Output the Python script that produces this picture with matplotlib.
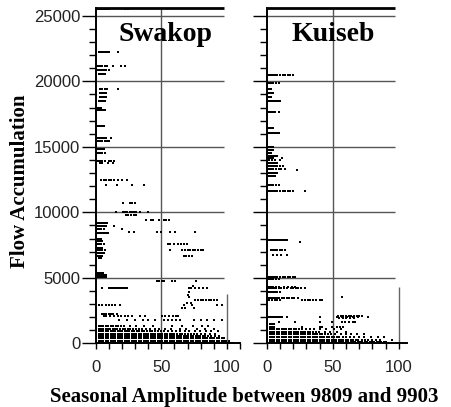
import matplotlib
matplotlib.use("Agg")
import matplotlib.pyplot as plt

# ============================
# DATA  (rows of points: y value, list of x values)
# ============================
titles = ["Swakop", "Kuiseb"]
xticks = [0, 50, 100]
yticks = [0, 5000, 10000, 15000, 20000, 25000]
grid_levels = [5000, 10000, 15000, 20000, 25000]

swakop_upper = [
    (25500, [1, 2.5, 4, 5.5, 7, 8.5, 10, 22, 25]),
    (22250, [2.5, 4, 5.5, 7, 8.5, 10, 17]),
    (21150, [1.5, 3, 5, 7, 8.5, 13, 19, 22.5]),
    (20850, [2, 3.5, 5, 6.5, 8, 10]),
    (20550, [2.5, 4, 5.5, 7]),
    (19400, [3, 5, 7, 8.5, 17]),
    (19100, [3.5, 5, 6.5, 8]),
    (18800, [3, 4.5, 6, 7.5]),
    (18500, [2.5, 4, 5.5, 7]),
    (18000, [1, 2.5, 4]),
    (17800, [1, 2.5, 4, 5.5, 7]),
    (16600, [1.5, 3, 4.5, 6]),
    (15700, [2, 3.5, 5, 6.5, 8, 12]),
    (15450, [2, 3.5, 5, 7, 8.5, 10]),
    (14800, [1.5, 3, 4.5, 6]),
    (14550, [2, 3.5, 5, 7]),
    (13900, [2, 3.5, 5, 7, 10, 12, 14]),
    (13750, [3, 5, 9.5, 13]),
    (12450, [4, 6, 8, 10, 12, 14, 17, 20, 24]),
    (12080, [8, 16, 28, 37]),
]

swakop_mid = [
    (10680, [21, 26, 28, 30]),
    (10030, [15.5, 21, 22.5, 24, 26, 27.5, 29, 31, 34, 39.5]),
    (9800, [23, 25, 27, 29, 31]),
    (9450, [38, 42, 44, 48, 52, 53.5, 56]),
    (9200, [1, 2.5, 4, 5.5, 7, 8.5]),
    (8950, [1.5, 3, 4.5, 6, 7.5, 13.7]),
    (8750, [1, 2.5, 4, 6, 20]),
    (8520, [25.6, 29.5, 46.8, 49.8, 57, 60.8, 76]),
    (8400, [1.5, 3, 4.5, 6, 8, 9.5]),
    (8000, [1, 2.5, 4]),
    (7800, [1.5, 3, 5]),
    (7550, [1, 2.5, 4, 6, 55, 57, 59.5, 63, 65, 67, 69.5]),
    (7300, [1.5, 3, 4.5]),
    (7120, [2, 3.5, 5, 7, 57, 66, 68, 70, 72, 74, 76, 78, 80, 82]),
    (6900, [1.5, 3, 5, 6.5]),
    (6700, [2, 3.5, 5, 67, 69, 71, 73.5]),
    (6500, [2.5, 4]),
    (5400, [1, 2.5, 4, 5.5]),
    (5200, [1.5, 3, 4.5, 6, 7.5]),
    (5050, [2, 3.5, 5, 6.5, 8]),
    (4750, [47, 48.5, 50.5, 52, 58, 60.5, 76.6]),
    (4370, [74.5]),
    (4200, [5, 10, 11.5, 13, 14.5, 16, 17.5, 19, 21, 22.6, 24, 71, 73, 76, 79, 82, 85]),
    (3940, [71]),
    (3700, [70]),
    (3500, [71.5]),
    (3300, [76, 78, 80, 82, 84, 86, 88, 90, 92.6]),
    (3100, [69.5, 73]),
    (2920, [2.3, 5, 7.5, 10, 12.5, 15, 18.8, 67, 73.5, 92.6, 96.4]),
    (2670, [66, 68, 75]),
    (2250, [5, 6.5, 8, 10, 12, 13.5, 16]),
    (2050, [6, 8, 11, 14, 17, 19.5, 22.5, 25, 27.7, 34, 37.6, 50.6, 53, 56, 59, 61, 63]),
    (1800, [18, 24, 30, 36, 40, 45, 52, 55, 58, 61, 64, 75, 80, 85, 90, 96]),
]

swakop_low = [
    (1300, [0.5, 2.3, 4.1, 5.9, 7.7, 9.5, 11.3, 13.1, 15.4, 17.2, 19.5, 21.6, 26, 31,
            36.5, 44, 58, 66, 74, 81, 85.5]),
    (1100, [0.5, 2.2, 4, 5.8, 7.6, 9.4, 11.2, 13, 14.8, 16.6, 18.4, 20.5, 22.3, 24.4,
            26.2, 28.5, 30.4, 33, 35.2, 38, 41.5, 45, 48.3, 53, 57.5, 64, 69, 77, 83, 90]),
    (920, [0.5, 2.3, 4.1, 5.9, 7.7, 9.5, 11.3, 13.1, 14.9, 16.7, 18.5, 20.3, 22.1, 23.9,
           25.7, 27.5, 29.3, 31.3, 33.1, 35, 37, 39, 41.2, 43.1, 45.3, 47.2, 49.4, 52, 55,
           58.2, 61, 64.5, 68, 71.5, 76, 79.5, 84, 88, 93]),
    (740, [0.5, 2.3, 4.1, 5.9, 7.7, 9.5, 11.3, 13.1, 14.9, 16.7, 18.5, 20.3, 22.1, 23.9,
           25.7, 27.5, 29.3, 31.1, 32.9, 34.7, 36.5, 38.3, 40.1, 41.9, 43.7, 45.5, 47.3,
           49.1, 50.9, 52.7, 54.5, 56.3, 58.1, 60, 62, 64, 66, 68.2, 70.4, 72.5, 75, 77.3,
           80, 83.5, 87, 91]),
    (560, [0.5, 2.3, 4.1, 5.9, 7.7, 9.5, 11.3, 13.1, 14.9, 16.7, 18.5, 20.3, 22.1, 23.9,
           25.7, 27.5, 29.3, 31.1, 32.9, 34.7, 36.5, 38.3, 40.1, 41.9, 43.7, 45.5, 47.3,
           49.1, 50.9, 52.7, 54.5, 56.3, 58.1, 59.9, 61.7, 63.5, 65.3, 67.1, 68.9, 70.7,
           72.5, 74.3, 76.1, 77.9, 79.7, 81.5, 83.3, 85.5, 88, 91, 94]),
    (380, [0.5, 2.3, 4.1, 5.9, 7.7, 9.5, 11.3, 13.1, 14.9, 16.7, 18.5, 20.3, 22.1, 23.9,
           25.7, 27.5, 29.3, 31.1, 32.9, 34.7, 36.5, 38.3, 40.1, 41.9, 43.7, 45.5, 47.3,
           49.1, 50.9, 52.7, 54.5, 56.3, 58.1, 59.9, 61.7, 63.5, 65.3, 67.1, 68.9, 70.7,
           72.5, 74.3, 76.1, 77.9, 79.7, 81.5, 83.3, 85.1, 86.9, 88.7, 90.5, 92.3, 94.1,
           96, 98]),
    (200, [0.5, 2.3, 4.1, 5.9, 7.7, 9.5, 11.3, 13.1, 14.9, 16.7, 18.5, 20.3, 22.1, 23.9,
           25.7, 27.5, 29.3, 31.1, 32.9, 34.7, 36.5, 38.3, 40.1, 41.9, 43.7, 45.5, 47.3,
           49.1, 50.9, 52.7, 54.5, 56.3, 58.1, 59.9, 61.7, 63.5, 65.3, 67.1, 68.9, 70.7,
           72.5, 74.3, 76.1, 77.9, 79.7, 81.5, 83.3, 85.1, 86.9, 88.7, 90.5, 92.3, 94.1,
           95.9, 97.7, 99.5, 101.5]),
    (50, [0.5, 2.3, 4.1, 5.9, 7.7, 9.5, 11.3, 13.1, 14.9, 16.7, 18.5, 20.3, 22.1, 23.9,
          25.7, 27.5, 29.3, 31.1, 32.9, 34.7, 36.5, 38.3, 40.1, 41.9, 43.7, 45.5, 47.3,
          49.1, 50.9, 52.7, 54.5, 56.3, 58.1, 59.9, 61.7, 63.5, 65.3, 67.1, 68.9, 70.7,
          72.5, 74.3, 76.1, 77.9, 79.7, 81.5, 83.3, 85.1, 86.9, 88.7, 90.5, 92.3, 94.1,
          95.9, 97.7, 99.5, 101.3, 103.1, 104.9, 109]),
]

kuiseb_upper = [
    (20470, [0.5, 2, 3.5, 5, 6.5, 8, 10, 12, 14, 16, 18, 20]),
    (19840, [0.5, 2, 3.5, 5, 7, 9]),
    (19380, [0.5, 2, 3.5]),
    (19080, [0.5, 2, 3.5, 5]),
    (18820, [0.5, 2, 3.5]),
    (18510, [1.5, 3, 4.5, 6, 7.5, 9, 10.3]),
    (17670, [0.5, 2, 3.5, 5, 6.5, 9]),
    (16400, [0.5, 2, 3.5, 5]),
    (16020, [1.5, 3, 4.5, 6, 7.5, 9]),
    (14950, [1.5, 3, 4.5]),
    (14750, [1.5, 3.5, 5]),
    (14500, [1.5, 3]),
    (14300, [2, 3.5, 5, 6.5, 8]),
    (14160, [1.5, 3, 5, 11.6]),
    (13990, [2, 4, 6, 9.7]),
    (13730, [1.5, 3, 4.5, 6, 8]),
    (13500, [1.5, 3, 4.5, 6, 8, 10, 12]),
    (13300, [2, 3.5, 5, 7, 9, 11, 14]),
    (13220, [23]),
    (13000, [1.5, 3, 4.5, 6, 8]),
    (12800, [1.5, 3, 4.5, 6]),
    (12080, [1.5, 3, 5, 7, 9]),
    (11600, [1.5, 3, 4.5, 6, 8, 10, 12, 14, 16, 18, 20, 29]),
]

kuiseb_mid = [
    (7880, [1.5, 3, 4.5, 6, 7.5, 9, 10.5, 12, 13.5, 15.4]),
    (7700, [25.5]),
    (7120, [3.5, 5, 6.5, 8, 10, 11.5, 13.5]),
    (6740, [5, 8, 11, 15]),
    (5080, [1.5, 3, 4.5, 6, 8, 10, 12, 14, 16, 18, 20, 21.7]),
    (4880, [1.5, 3, 5, 7, 9]),
    (4320, [1.5, 3, 5, 7, 9, 13, 16, 19, 21.7]),
    (4200, [1, 2.5, 4, 5.5, 7, 9, 11, 13, 15, 18.5, 20, 22, 24, 26, 29]),
    (3940, [1.5, 3, 4.5, 6, 8, 10]),
    (3560, [57]),
    (3430, [1.5, 3, 4.5, 6, 7.5, 9, 11.6, 13, 15, 17, 19, 21, 24]),
    (3300, [2, 4, 6, 8, 10, 27, 29, 31, 33, 35, 37, 40, 42]),
    (2100, [54, 56, 58, 60, 62, 64, 66, 68, 70, 72]),
    (2030, [1.5, 3, 4.5, 6, 7.5, 9, 10.5, 11.6, 15.4, 40.6, 53, 57, 61, 65, 69, 77]),
    (1900, [55, 58, 60, 63, 66]),
    (1650, [9, 21.7, 40.6, 49.5, 57, 59, 62, 65, 67]),
]

kuiseb_low = [
    (1480, [0.5, 2.3, 4.1, 5.9]),
    (1280, [0.5, 2.3, 4.1, 5.9, 27, 40, 42, 49.5, 53, 55.5, 58]),
    (1080, [0.5, 2.3, 4.1, 5.9, 7.7, 9.5, 11.3, 13.1, 14.9, 16.7, 18.5, 20.3, 22.5,
            24.6, 27, 29.5, 33, 36, 40, 45, 51, 56]),
    (880, [0.5, 2.3, 4.1, 5.9, 7.7, 9.5, 11.3, 13.1, 14.9, 16.7, 18.5, 20.3, 22.1, 23.9,
           25.7, 27.5, 29.3, 31.1, 33, 35, 37.2, 39.5, 44, 48, 53, 60]),
    (680, [0.5, 2.3, 4.1, 5.9, 7.7, 9.5, 11.3, 13.1, 14.9, 16.7, 18.5, 20.3, 22.1, 23.9,
           25.7, 27.5, 29.3, 31.1, 32.9, 34.7, 36.5, 38.3, 40.1, 42, 44, 46.2, 48.5, 52,
           56, 60, 64, 68, 74]),
    (480, [0.5, 2.3, 4.1, 5.9, 7.7, 9.5, 11.3, 13.1, 14.9, 16.7, 18.5, 20.3, 22.1, 23.9,
           25.7, 27.5, 29.3, 31.1, 32.9, 34.7, 36.5, 38.3, 40.1, 41.9, 43.7, 45.5, 47.3,
           49.1, 51, 53, 55, 57.5, 60, 63, 66, 70, 74, 79, 84, 89]),
    (290, [0.5, 2.3, 4.1, 5.9, 7.7, 9.5, 11.3, 13.1, 14.9, 16.7, 18.5, 20.3, 22.1, 23.9,
           25.7, 27.5, 29.3, 31.1, 32.9, 34.7, 36.5, 38.3, 40.1, 41.9, 43.7, 45.5, 47.3,
           49.1, 50.9, 52.7, 54.5, 56.3, 58.1, 59.9, 61.7, 63.5, 65.3, 67.4, 69.5, 72,
           74.5, 77, 80, 83, 86, 95]),
    (100, [0.5, 2.3, 4.1, 5.9, 7.7, 9.5, 11.3, 13.1, 14.9, 16.7, 18.5, 20.3, 22.1, 23.9,
           25.7, 27.5, 29.3, 31.1, 32.9, 34.7, 36.5, 38.3, 40.1, 41.9, 43.7, 45.5, 47.3,
           49.1, 50.9, 52.7, 54.5, 56.3, 58.1, 59.9, 61.7, 63.5, 65.3, 67.1, 68.9, 70.7,
           72.5, 74.3, 76.1, 77.9, 79.7, 81.5, 83.3, 85.1, 86.9, 88.7, 90.5]),
]

# ============================
# STYLE SETTINGS
# ============================
W, H = 451, 407
serif = "Liberation Serif"
sans = "Liberation Sans"
grid_color = "#555555"


def flatten(*groups):
    xs, ys = [], []
    for rows in groups:
        for y, row_x in rows:
            xs.extend(row_x)
            ys.extend([y] * len(row_x))
    return xs, ys


def setup_panel(ax, xmax, grid_end, line100_top, minor_end, show_ylabels):
    ax.set_xlim(0, xmax)
    ax.set_ylim(0, 25600)
    for s in ["top", "right"]:
        ax.spines[s].set_visible(False)
    for s in ["left", "bottom"]:
        ax.spines[s].set_linewidth(1.4)
        ax.spines[s].set_color("black")

    ax.set_xticks(xticks)
    ax.set_xticks(range(10, minor_end + 1, 10), minor=True)
    ax.set_yticks(yticks)
    ax.set_yticks(range(1000, 25001, 1000), minor=True)
    ax.tick_params(axis="x", which="both", length=4, width=1, direction="out", pad=8,
                   labelsize=12, labelcolor="#222222")
    ax.tick_params(axis="y", which="major", length=10, width=1, pad=1,
                   labelsize=12, labelcolor="#222222", labelleft=show_ylabels)
    ax.tick_params(axis="y", which="minor", length=5, width=1)
    for lbl in ax.get_xticklabels() + ax.get_yticklabels():
        lbl.set_fontfamily(sans)

    ax.hlines(grid_levels, 0, grid_end, color=grid_color, lw=1, zorder=1)
    ax.vlines(50, 0, 25600, color=grid_color, lw=1, zorder=1)
    ax.vlines(100, 0, line100_top, color="#666666", lw=1, zorder=1)
    ax.hlines(25600, 0, grid_end, color="black", lw=2, zorder=3, clip_on=False)


def main():
    fig = plt.figure(figsize=(W / 100, H / 100), dpi=100)
    bottom = 1 - 343.3 / H
    height = (343.3 - 8) / H
    ax1 = fig.add_axes([95.7 / W, bottom, (240 - 95.7) / W, height])
    ax2 = fig.add_axes([266.7 / W, bottom, (406.7 - 266.7) / W, height])

    setup_panel(ax1, 110, 98, 3800, 110, True)
    setup_panel(ax2, 106, 97.5, 4300, 100, False)

    sx, sy = flatten(swakop_upper, swakop_mid, swakop_low)
    kx, ky = flatten(kuiseb_upper, kuiseb_mid, kuiseb_low)
    ax1.plot(sx, sy, "s", ms=2.0, mew=0, color="black", zorder=2)
    ax2.plot(kx, ky, "s", ms=2.0, mew=0, color="black", zorder=2)

    ax1.text(53, 23050, titles[0], ha="center", va="baseline", fontsize=20,
             fontweight="bold", family=serif)
    ax2.text(50, 23100, titles[1], ha="center", va="baseline", fontsize=20,
             fontweight="bold", family=serif)

    fig.text(20 / W, 1 - 181.5 / H, "Flow Accumulation", rotation=90, ha="center",
             va="center", fontsize=15, fontweight="bold", family=serif)
    fig.text(243.9 / W, 1 - 402 / H, "Seasonal Amplitude between 9809 and 9903",
             ha="center", va="baseline", fontsize=15, fontweight="bold", family=serif)

    fig.savefig("out.png", dpi=100)


if __name__ == "__main__":
    main()
